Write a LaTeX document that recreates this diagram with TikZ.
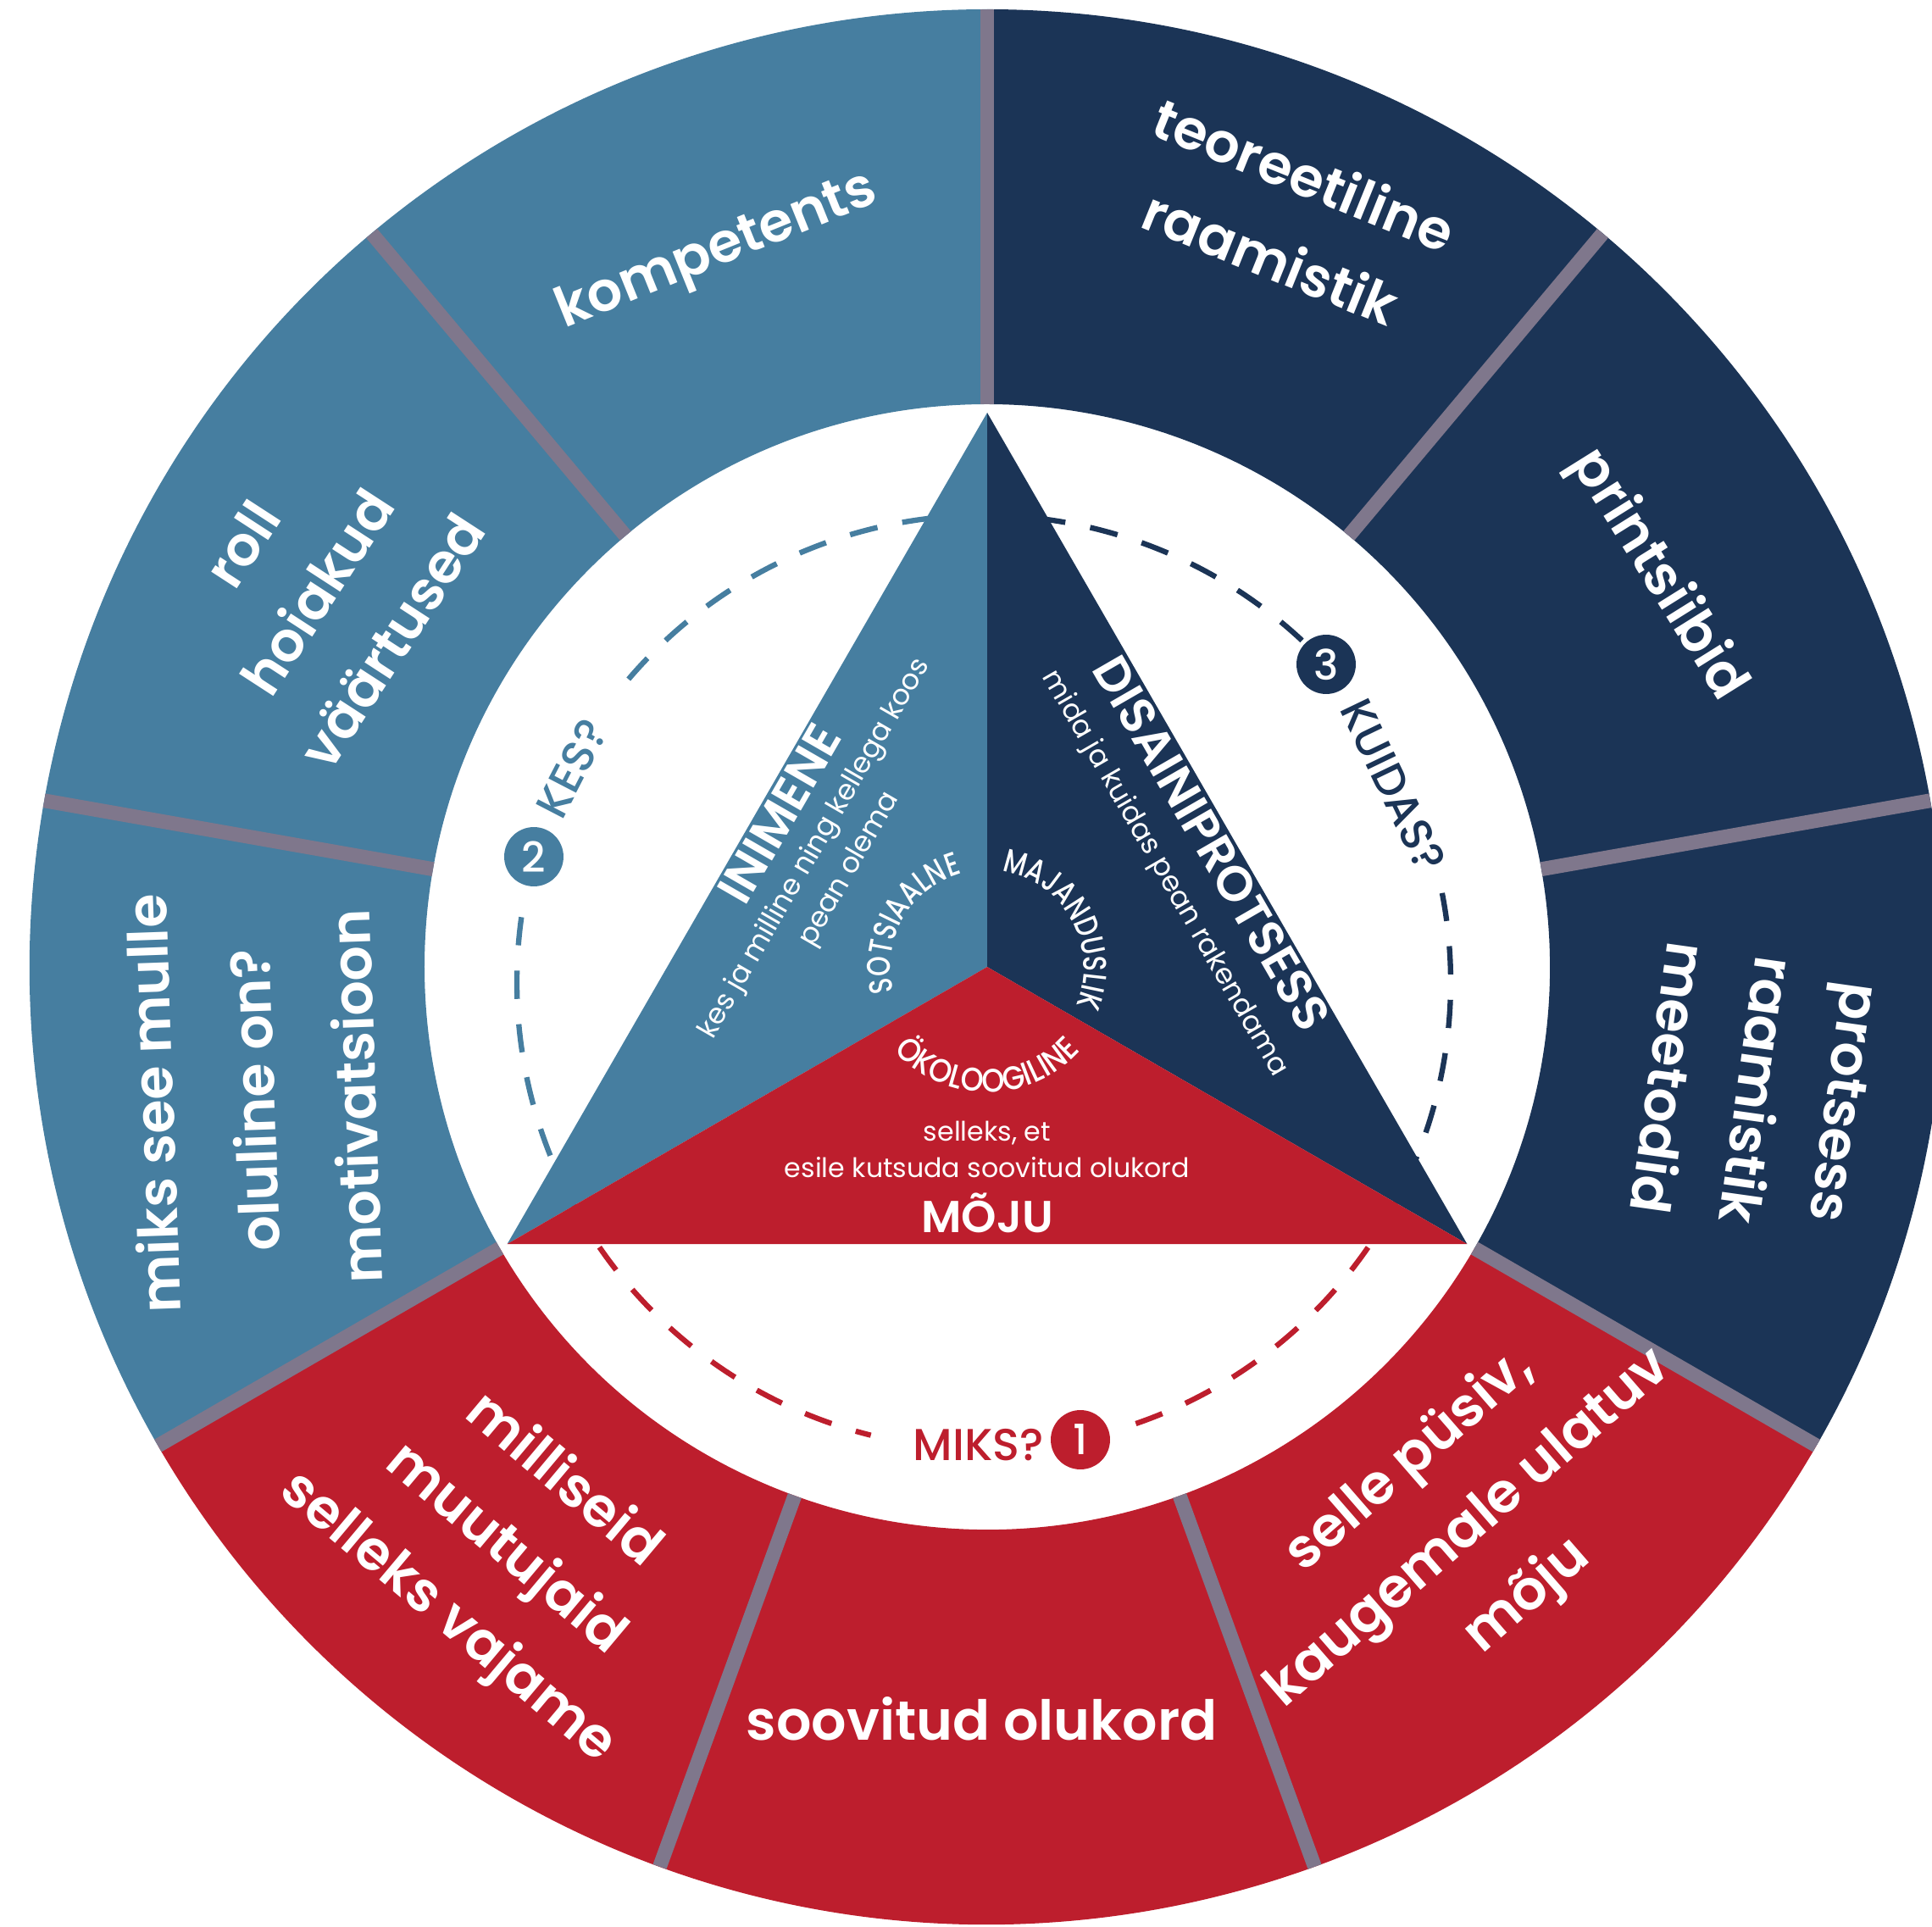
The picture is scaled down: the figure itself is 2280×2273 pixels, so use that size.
\documentclass[tikz,border=0pt]{standalone}
\usepackage{fontspec}
\setmainfont{Poppins}[BoldFont={Poppins SemiBold}]
\newfontfamily\popmed{Poppins Medium}
\newfontfamily\popcurve{Poppins Medium}[FakeStretch=0.78]
\newfontfamily\popcurveb{Poppins Medium}[FakeStretch=0.89]
\usetikzlibrary{decorations.text}
\definecolor{cblue}{HTML}{467EA0}
\definecolor{cnavy}{HTML}{1B3456}
\definecolor{cred}{HTML}{BD1E2D}
\definecolor{cgray}{HTML}{7F778C}
\newcommand{\fsz}[2]{\fontsize{#1}{#2}\selectfont}
\begin{document}
\begin{tikzpicture}[x=0.01cm,y=0.01cm,
  ring/.style={text=white,font=\fsz{18.5}{30}\bfseries,align=center,inner sep=0pt},
  sepline/.style={cgray,line width=4.8pt},
  dasharc/.style={line width=1.8pt,dash pattern=on 9.5pt off 8.5pt},
  num/.style={circle,inner sep=0pt,minimum size=19.9pt,text=white,font=\popmed\fsz{14}{14}},
  qlabel/.style={font=\popmed\fsz{15}{15},inner sep=0pt},
  tri/.style={text=white,inner sep=0pt,align=center}]
\useasboundingbox (-1165,-1132) rectangle (1115,1141);
\clip (-1165,-1132) rectangle (1115,1141);

% outer ring sectors
\fill[cblue] (90:664) arc[start angle=90,end angle=210,radius=664] -- (210:1130) arc[start angle=210,end angle=90,radius=1130] -- cycle;
\fill[cred] (210:664) arc[start angle=210,end angle=330,radius=664] -- (330:1130) arc[start angle=330,end angle=210,radius=1130] -- cycle;
\fill[cnavy] (-30:664) arc[start angle=-30,end angle=90,radius=664] -- (90:1130) arc[start angle=90,end angle=-30,radius=1130] -- cycle;
\foreach \a in {90,50,10,-30,-70,-110,-150,170,130} \draw[sepline] (\a:664) -- (\a:1130);

% ring texts
\node[ring,rotate=22] (t1) at (110.7:901) {kompetents};
\node[ring,rotate=-22] (t2) at (68.2:955) {teoreetiline\\raamistik};
\node[ring,rotate=-58] (t3) at (30.3:916) {printsiibid};
\node[ring,rotate=-98] (t4) at (-9.1:919) {protsess\\raamistik\\meetodid};
\node[ring,rotate=57] (t5) at (150.8:906) {roll\\hoiakud\\väärtused};
\node[ring,rotate=92,font=\fsz{18.5}{34}\bfseries] (t6) at (190.3:880) {miks see mulle\\oluline on?\\motivatsioon};
\node[ring,rotate=-40] (t7) at (230.4:893) {milliseid\\muutujaid\\selleks vajame};
\node[ring] (t8) at (269.6:887) {soovitud olukord};
\node[ring,rotate=41] (t9) at (310.6:874) {selle püsiv,\\kaugemale ulatuv\\mõju};

% dashed circle
\begin{scope}[shift={(-4,-18)}]
\draw[cblue,dasharc] (90:551) arc[start angle=90,end angle=142,radius=551];
\draw[cblue,dasharc] (172:551) arc[start angle=172,end angle=208,radius=551];
\draw[cnavy,dasharc] (90:551) arc[start angle=90,end angle=47,radius=551];
\draw[cnavy,dasharc] (11:551) arc[start angle=11,end angle=-28,radius=551];
\draw[cred,dasharc] (208:551) arc[start angle=208,end angle=256,radius=551];
\draw[cred,dasharc] (289:551) arc[start angle=289,end angle=332,radius=551];
\end{scope}

% triangle
\coordinate (O) at (0,0);
\coordinate (A) at (90:654);
\coordinate (B) at (210:654);
\coordinate (C) at (330:654);
\fill[cblue] (O) -- (A) -- (B) -- cycle;
\fill[cnavy] (O) -- (A) -- (C) -- cycle;
\fill[cred] (O) -- (B) -- (C) -- cycle;

% triangle texts
\node[tri,rotate=60,font=\fsz{16.5}{16.5}\bfseries] (inim) at (-245,181) {INIMENE};
\node[tri,rotate=60,font=\fsz{9.5}{11}] (kes1) at (-203,139) {kes ja milline ning kellega koos};
\node[tri,rotate=60,font=\fsz{9.5}{11}] (kes2) at (-162,115) {pean olema};
\node[tri,rotate=-60,font=\fsz{16.5}{16.5}\bfseries] (dis) at (265,146) {DISAINIPROTSESS};
\node[tri,rotate=-60,font=\fsz{9.5}{11}] (mida) at (209,110) {mida ja kuidas pean rakendama};
\node[tri,anchor=base,font=\fsz{9}{11}] (sel) at (0,-205) {selleks, et};
\node[tri,anchor=base,font=\fsz{9}{11}] (esile) at (0,-248) {esile kutsuda soovitud olukord};
\node[tri,anchor=base,font=\fsz{15}{15}\bfseries] (moju) at (0,-313) {MÕJU};

\path[decorate,decoration={text along path,text align=center,text={|\color{white}\popcurve\fsz{11}{11}|SOTSIAALNE}}] (230:114) arc[start angle=230,end angle=70,radius=114];
\path[decorate,decoration={text along path,text align=center,text={|\color{white}\popcurve\fsz{11}{11}|MAJANDUSLIK}}] (109:114) arc[start angle=109,end angle=-51,radius=114];
\path[decorate,decoration={text along path,text align=center,text={|\color{white}\popcurveb\fsz{11}{11}|ÖKOLOOGILINE}}] (195:148) arc[start angle=195,end angle=345,radius=148];

% labels on dashed circle
\node[num,fill=cblue] (n2) at (-535,130) {2};
\node[qlabel,text=cblue,rotate=62.6] (kes) at (-490,234) {KES?};
\node[num,fill=cnavy] (n3) at (400,357) {3};
\node[qlabel,text=cnavy,rotate=-64.3] (kuidas) at (479,214) {KUIDAS?};
\node[qlabel,text=cred] (miks) at (-10,-564) {MIKS?};
\node[num,fill=cred] (n1) at (110,-558) {1};
\end{tikzpicture}
\end{document}
